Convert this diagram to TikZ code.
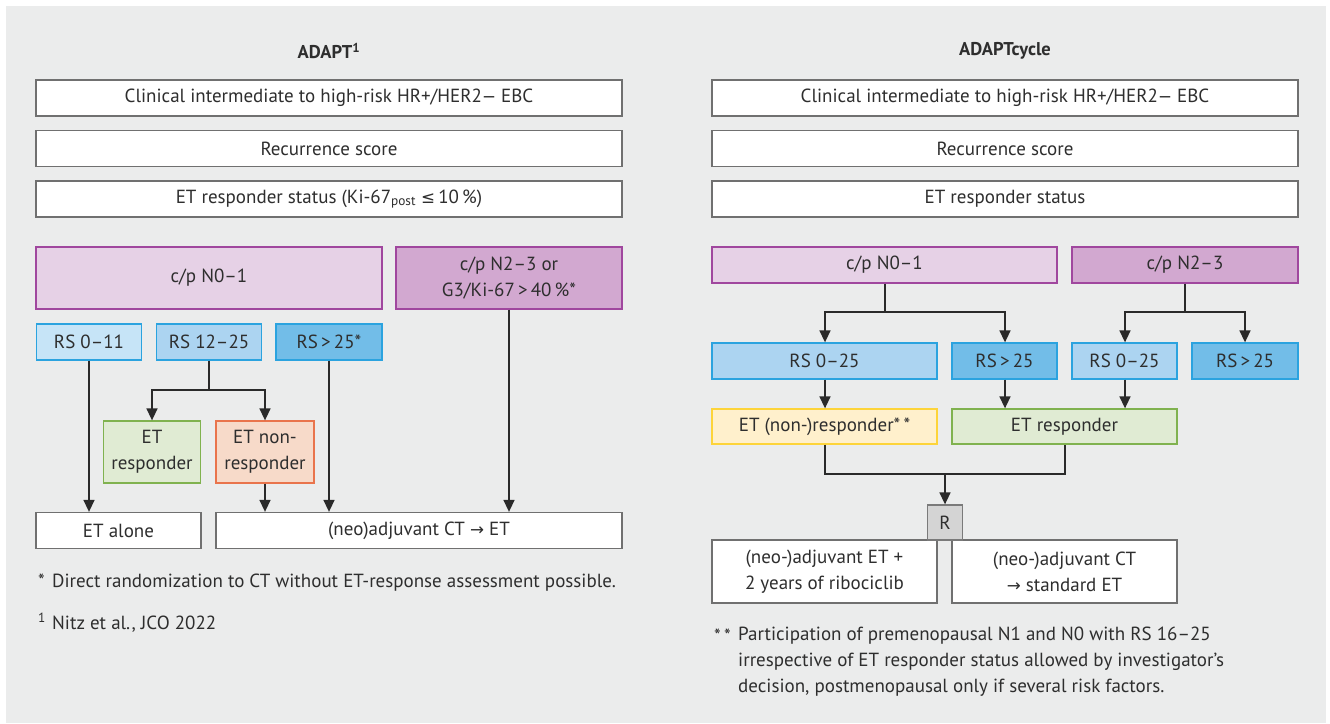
\documentclass[tikz,border=0pt]{standalone}
\usepackage{fontspec}
\setmainfont{PT Sans}
\newfontfamily\symf{DejaVu Sans}[Scale=0.88]
\usetikzlibrary{arrows.meta}
\definecolor{panel}{HTML}{EBECEC}
\definecolor{txt}{HTML}{2E2E2E}
\definecolor{boxline}{HTML}{707070}
\definecolor{wire}{HTML}{2A2A2A}
\definecolor{purpleline}{HTML}{A0479E}
\definecolor{purpleA}{HTML}{E6D1E6}
\definecolor{purpleB}{HTML}{D2A8D0}
\definecolor{blueline}{HTML}{2BA3DF}
\definecolor{blueA}{HTML}{C6E4F7}
\definecolor{blueB}{HTML}{ACD4F1}
\definecolor{blueC}{HTML}{72BDE8}
\definecolor{greenline}{HTML}{80B24F}
\definecolor{greenA}{HTML}{E0EBD3}
\definecolor{orangeline}{HTML}{E9744C}
\definecolor{orangeA}{HTML}{F7DAC9}
\definecolor{yellowline}{HTML}{FDD43A}
\definecolor{yellowA}{HTML}{FFF0CC}
\definecolor{rline}{HTML}{7A7A7A}
\definecolor{rfill}{HTML}{D4D4D4}

\begin{document}
\begin{tikzpicture}[x=1pt,y=-1pt,
    font=\fontsize{19}{26}\selectfont, text=txt,
    every node/.style={inner sep=0pt, align=center},
    box/.style={draw=boxline, line width=1.3pt, fill=white, minimum height=36pt},
    nodes1/.style={draw=purpleline, line width=1.3pt, fill=purpleA},
    nodes2/.style={draw=purpleline, line width=1.3pt, fill=purpleB},
    rs1/.style={draw=blueline, line width=1.3pt, fill=blueA, minimum height=36pt},
    rs2/.style={draw=blueline, line width=1.3pt, fill=blueB, minimum height=36pt},
    rs3/.style={draw=blueline, line width=1.3pt, fill=blueC, minimum height=36pt},
    resp/.style={draw=greenline, line width=1.3pt, fill=greenA},
    nonresp/.style={draw=orangeline, line width=1.3pt, fill=orangeA},
    anyresp/.style={draw=yellowline, line width=1.3pt, fill=yellowA},
    wire/.style={draw=wire, line width=1.5pt},
    arr/.style={wire, -{Triangle[width=11pt,length=12pt]}}]

    \useasboundingbox (0,0) rectangle (1330,723);
    \fill[panel] (6,6) rectangle (1326,723);

    % ADAPT
    \node[font=\fontsize{18.5}{26}\bfseries] (L0) at (329,51) {ADAPT\textsuperscript{1}};
    \node[box, minimum width=586pt] (L1) at (329,98) {Clinical intermediate to high-risk HR+/HER2{\symf −} EBC};
    \node[box, minimum width=586pt] (L2) at (329,148.5) {Recurrence score};
    \node[box, minimum width=586pt] (L3) at (329,199) {ET responder status (Ki-67\textsubscript{post} {\symf ≤}\,10\,\%)};
    \node[nodes1, minimum width=346pt, minimum height=62pt] (L4) at (209,278) {c/p N0–1};
    \node[nodes2, minimum width=226pt, minimum height=62pt] (L5) at (509,278) {c/p N2–3 or\\G3/Ki-67\,>\,40\,\%*};
    \node[rs1, minimum width=105pt] (L6) at (89,342) {RS 0–11};
    \node[rs2, minimum width=105pt] (L7) at (209,342) {RS 12–25};
    \node[rs3, minimum width=106pt] (L8) at (329,342) {RS\,>\,25*};
    \node[resp, minimum width=97pt, minimum height=62pt] (L9) at (152,452) {ET\\responder};
    \node[nonresp, minimum width=98pt, minimum height=62pt] (L10) at (265,452) {ET non-\\responder};
    \node[box, minimum width=165pt] (L11) at (118.5,530.5) {ET alone};
    \node[box, minimum width=406pt] (L12) at (419,530.5) {(neo)adjuvant CT {\symf →} ET};

    \coordinate (L7s) at (209,390);
    \draw[arr] (L6.south) -- (L6.south |- L11.north);
    \draw[wire] (L7.south) -- (L7s);
    \draw[arr] (L7s) -| (L9.north);
    \draw[arr] (L7s) -| (L10.north);
    \draw[arr] (L10.south) -- (L10.south |- L12.north);
    \draw[arr] (L8.south) -- (L8.south |- L12.north);
    \draw[arr] (L5.south) -- (L5.south |- L12.north);

    \node[anchor=base west] (L13) at (38,587) {*};
    \node[anchor=base west] (L14) at (52,587) {Direct randomization to CT without ET-response assessment possible.};
    \node[anchor=base west] (L15) at (38,629) {\textsuperscript{1}};
    \node[anchor=base west] (L16) at (52,629) {Nitz et al., JCO 2022};

    % ADAPTcycle
    \node[font=\fontsize{18.5}{26}\bfseries] (Y0) at (1005,51) {ADAPTcycle};
    \node[box, minimum width=586pt] (Y1) at (1005,98) {Clinical intermediate to high-risk HR+/HER2{\symf −} EBC};
    \node[box, minimum width=586pt] (Y2) at (1005,148.5) {Recurrence score};
    \node[box, minimum width=586pt] (Y3) at (1005,199) {ET responder status};
    \node[nodes1, minimum width=345pt, minimum height=36pt] (Y4) at (884.5,265) {c/p N0–1};
    \node[nodes2, minimum width=226pt, minimum height=36pt] (Y5) at (1185,265) {c/p N2–3};
    \node[rs2, minimum width=225pt] (Y6) at (824.5,361) {RS 0–25};
    \node[rs3, minimum width=105pt] (Y7) at (1004.5,361) {RS\,>\,25};
    \node[rs2, minimum width=105pt] (Y8) at (1124.5,361) {RS 0–25};
    \node[rs3, minimum width=106pt] (Y9) at (1245,361) {RS\,>\,25};
    \node[anyresp, minimum width=225pt, minimum height=35pt] (Y10) at (824.5,426.5) {ET (non-)responder*\,*};
    \node[resp, minimum width=225pt, minimum height=35pt] (Y11) at (1064.5,426.5) {ET responder};
    \node[box, minimum width=225pt, minimum height=63pt] (Y13) at (824.5,571.5) {(neo-)adjuvant ET +\\2 years of ribociclib};
    \node[box, minimum width=225pt, minimum height=63pt] (Y14) at (1064.5,571.5) {(neo-)adjuvant CT\\{\symf →} standard ET};
    \node[draw=rline, line width=1.3pt, fill=rfill, minimum width=35pt, minimum height=35pt] (Y12) at (945,522.5) {R};

    \coordinate (Y4s) at (885,312);
    \coordinate (Y5s) at (1185,312);
    \coordinate (Yj) at (945,474);
    \draw[wire] (Y4s |- Y4.south) -- (Y4s);
    \draw[arr] (Y4s) -| ([xshift=0.5pt]Y6.north);
    \draw[arr] (Y4s) -| ([xshift=0.5pt]Y7.north);
    \draw[wire] (Y5.south) -- (Y5s);
    \draw[arr] (Y5s) -| ([xshift=0.5pt]Y8.north);
    \draw[arr] (Y5s) -| (Y9.north);
    \draw[arr] ([xshift=0.5pt]Y6.south) -- ([xshift=0.5pt]Y10.north);
    \draw[arr] ([xshift=0.5pt]Y7.south) -- ([xshift=0.5pt]Y7.south |- Y11.north);
    \draw[arr] ([xshift=0.5pt]Y8.south) -- ([xshift=0.5pt]Y8.south |- Y11.north);
    \draw[wire] ([xshift=0.5pt]Y10.south) |- (Yj) -| ([xshift=0.5pt]Y11.south);
    \draw[arr] (Yj) -- (Y12.north);

    \node[anchor=base west] (Y15) at (714,642) {*\,*};
    \node[anchor=north west, align=left] (Y16) at (738,627) {Participation of premenopausal N1 and N0 with RS 16–25\\irrespective of ET responder status allowed by investigator’s\\decision, postmenopausal only if several risk factors.};
\end{tikzpicture}
\end{document}
